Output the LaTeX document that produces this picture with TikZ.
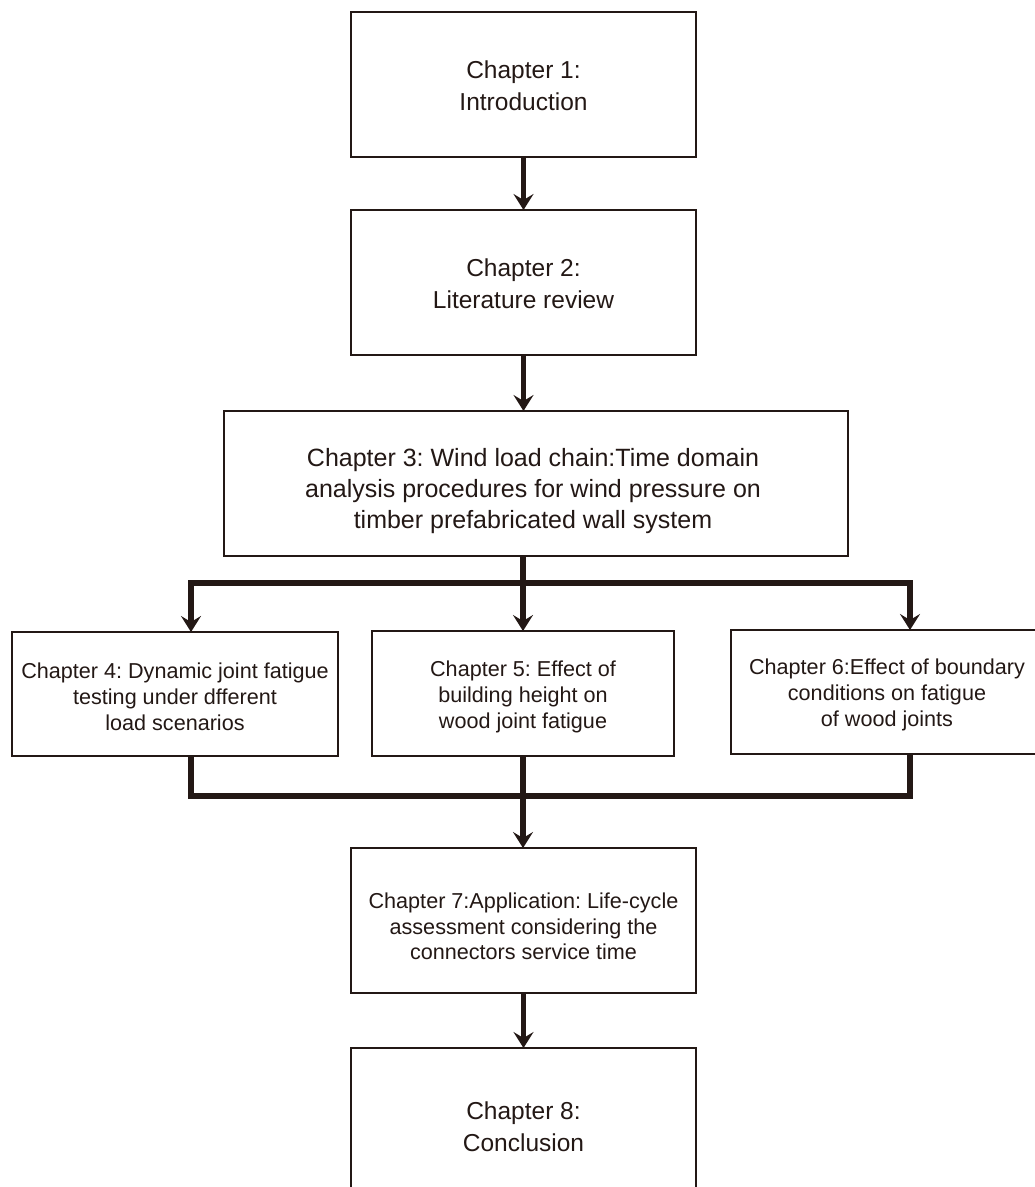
\documentclass[tikz,border=0pt]{standalone}
\usepackage{fontspec}
\setmainfont{Liberation Sans}
\usetikzlibrary{arrows.meta}
\definecolor{ink}{RGB}{35,24,21}
\begin{document}
\frenchspacing
\begin{tikzpicture}[x=1pt,y=-1pt,
  box/.style={draw=ink, line width=1.5pt, rectangle, inner sep=0pt, outer sep=0pt},
  txt/.style={inner sep=0pt, align=center, text=ink},
  bigtxt/.style={font=\fontsize{24.5}{32}\selectfont},
  midtxt/.style={font=\fontsize{25}{31}\selectfont},
  smalltxt/.style={font=\fontsize{21.6}{26}\selectfont},
  conn/.style={draw=ink, line width=5.5pt, line join=miter},
  arr/.style={conn, -{Stealth[length=16pt,width=20pt,inset=6pt]}}]
\clip (0,0) rectangle (1035,1187);
\fill[white] (0,0) rectangle (1035,1187);

\node[box, minimum width=345pt, minimum height=145pt] (b1) at (523.5,84.5) {};
\node[box, minimum width=345pt, minimum height=145pt] (b2) at (523.5,282.5) {};
\node[box, minimum width=624pt, minimum height=145pt] (b3) at (536,483.5) {};
\node[box, minimum width=326pt, minimum height=124pt] (b4) at (175,694) {};
\node[box, minimum width=302pt, minimum height=125pt] (b5) at (523,693.5) {};
\node[box, minimum width=312pt, minimum height=124pt] (b6) at (887,692) {};
\node[box, minimum width=345pt, minimum height=145pt] (b7) at (523.5,920.5) {};
\node[box, minimum width=345pt, minimum height=145pt] (b8) at (523.5,1120.5) {};

\node[txt, bigtxt] (t1) at ([yshift=-1pt]b1.center) {Chapter 1:\\Introduction};
\node[txt, bigtxt] (t2) at ([yshift=-1pt]b2.center) {Chapter 2:\\Literature review};
\node[txt, midtxt] (t3) at ([xshift=-3pt,yshift=-8pt]b3.center) {Chapter 3: Wind load chain:Time domain\\analysis procedures for wind pressure on\\timber prefabricated wall system};
\node[txt, smalltxt] (t4) at ([yshift=-3pt]b4.center) {Chapter 4: Dynamic joint fatigue\\testing under dfferent\\load scenarios};
\node[txt, smalltxt] (t5) at ([yshift=-3pt]b5.center) {Chapter 5: Effect of\\building height on\\wood joint fatigue};
\node[txt, smalltxt] (t6) at ([yshift=-3pt]b6.center) {Chapter 6:Effect of boundary\\conditions on fatigue\\of wood joints};
\node[txt, font=\fontsize{21.6}{25.5}\selectfont] (t7) at ([yshift=-6pt]b7.center) {Chapter 7:Application: Life-cycle\\assessment considering the\\connectors service time};
\node[txt, bigtxt] (t8) at ([yshift=-6pt]b8.center) {Chapter 8:\\Conclusion};

\coordinate (jl) at (191,583);
\coordinate (jm) at (523,583);
\coordinate (jr) at (910,583);
\coordinate (kl) at (191,796);
\coordinate (km) at (523,796);
\coordinate (kr) at (910,796);

\draw[arr] (b1.south) -- (b2.north);
\draw[arr] (b2.south) -- (b3.north -| b2.south);

\draw[conn] (b3.south -| jm) -- (jm);
\draw[conn, line cap=rect] (jl) -- (jr);
\draw[arr] (jl) -- (b4.north -| jl);
\draw[arr] (jm) -- (b5.north -| jm);
\draw[arr] (jr) -- (b6.north -| jr);

\draw[conn] (b4.south -| kl) -- (kl) -- (kr) -- (b6.south -| kr);
\draw[conn] (b5.south -| km) -- (km);
\draw[arr] (km) -- (b7.north -| km);

\draw[arr] (b7.south) -- (b8.north);
\end{tikzpicture}
\end{document}
